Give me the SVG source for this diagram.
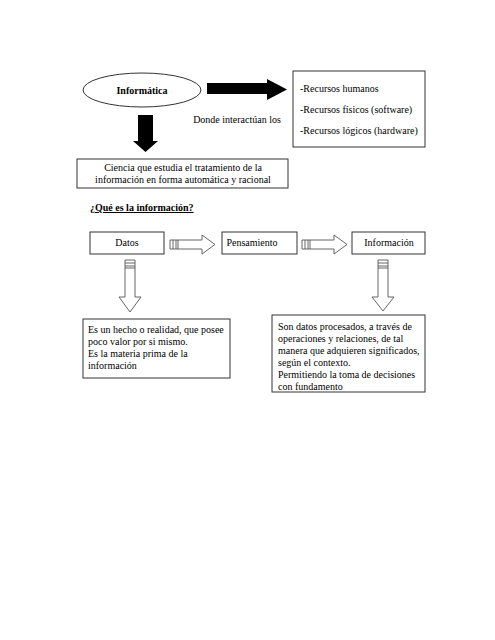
<svg xmlns="http://www.w3.org/2000/svg" width="495" height="640" viewBox="0 0 495 640">
<style>
text{font-family:"Liberation Serif","Times New Roman",serif;font-size:10px;fill:#000}
.box{fill:#fff;stroke:#333;stroke-width:1}
.hollow{fill:#fff;stroke:#555;stroke-width:0.9}
.stripe{stroke:#555;stroke-width:0.9;fill:none}
.blk{fill:#000}
</style>
<rect width="495" height="640" fill="#fff"/>
<g id="informatica">
<ellipse cx="142" cy="90" rx="59" ry="17" class="box"/>
<text x="142" y="94" text-anchor="middle" font-weight="bold">Informática</text>
</g>
<g id="recursos">
<rect x="293" y="71" width="132" height="76" class="box"/>
<text x="300" y="92">-Recursos humanos</text>
<text x="300" y="113">-Recursos físicos (software)</text>
<text x="300" y="134">-Recursos lógicos (hardware)</text>
</g>
<g id="ciencia">
<rect x="77" y="159" width="211" height="29" class="box" stroke-width="1.3"/>
<text x="183" y="171" text-anchor="middle">Ciencia que estudia el tratamiento de la</text>
<text x="183" y="183" text-anchor="middle">información en forma automática y racional</text>
</g>
<g id="pregunta">
<text x="90" y="211" font-weight="bold" text-decoration="underline">¿Qué es la información?</text>
</g>
<g id="datos">
<rect x="90" y="232" width="74" height="22" class="box"/>
<text x="127" y="246" text-anchor="middle">Datos</text>
</g>
<g id="pensamiento">
<rect x="222" y="232" width="75" height="22" class="box"/>
<text x="252" y="246" text-anchor="middle">Pensamiento</text>
</g>
<g id="informacion">
<rect x="352" y="232" width="73" height="22" class="box"/>
<text x="389" y="246" text-anchor="middle">Información</text>
</g>
<g id="hecho">
<rect x="83" y="319" width="147" height="59" class="box"/>
<text x="88" y="333">Es un hecho o realidad, que posee</text>
<text x="88" y="345">poco valor por si mismo.</text>
<text x="88" y="357">Es la materia prima de la</text>
<text x="88" y="369">información</text>
</g>
<g id="procesados">
<rect x="272" y="315" width="153" height="77" class="box"/>
<text x="278" y="330">Son datos procesados, a través de</text>
<text x="278" y="342">operaciones y relaciones, de tal</text>
<text x="278" y="354">manera que adquieren significados,</text>
<text x="278" y="366">según el contexto.</text>
<text x="278" y="378">Permitiendo la toma de decisiones</text>
<text x="278" y="390">con fundamento</text>
</g>
<g id="connectors">
<text x="237" y="123" text-anchor="middle">Donde interactúan los</text>
<polygon class="blk" points="207,83 267,83 267,79 287,89.5 267,100 267,94 207,94"/>
<polygon class="blk" points="138,115 153,115 153,141 158,141 145.5,152 133,141 138,141"/>
<polygon class="hollow" points="170,240 202,240 202,235 215,244.5 202,254 202,249 170,249"/>
<path class="stripe" d="M173,240V249M176,240V249M178,240V249"/>
<polygon class="hollow" points="302,240 334,240 334,235 347,244.5 334,254 334,249 302,249"/>
<path class="stripe" d="M305,240V249M308,240V249M310,240V249"/>
<polygon class="hollow" points="125,260 135,260 135,297 141,297 130,312 119,297 125,297"/>
<path class="stripe" d="M125,263H135M125,266H135M125,268H135"/>
<polygon class="hollow" points="378,260 388,260 388,297 394,297 383,311 372,297 378,297"/>
<path class="stripe" d="M378,263H388M378,266H388M378,268H388"/>
</g>
</svg>
